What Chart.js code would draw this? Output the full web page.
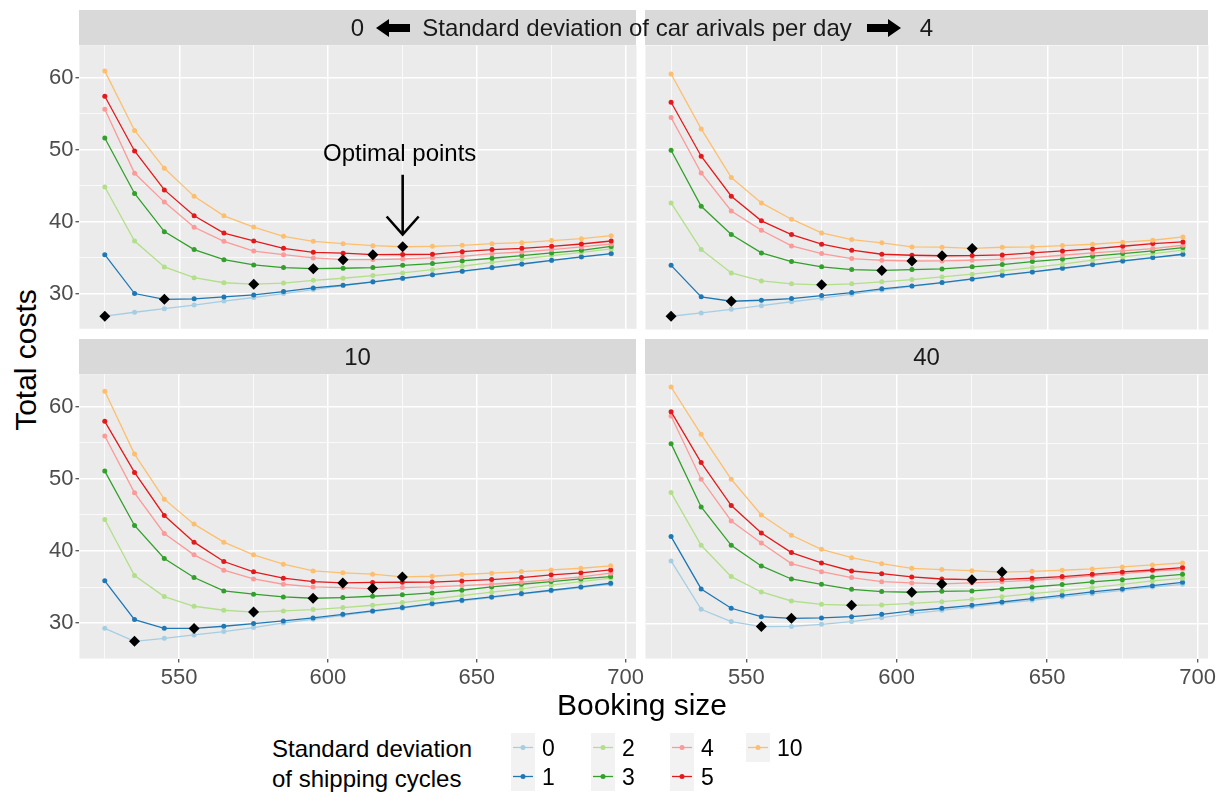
<!DOCTYPE html>
<html><head><meta charset="utf-8">
<script src="https://cdn.jsdelivr.net/npm/chart.js@4/dist/chart.umd.min.js"></script>
<style>
html,body{margin:0;padding:0;background:#fff;}
#root{position:relative;width:1223px;height:794px;overflow:hidden;font-family:'Liberation Sans',Arial,sans-serif;}
.wrap{position:absolute;left:0;top:0;}
.strip{position:absolute;background:#D9D9D9;z-index:2;}
.stxt{position:absolute;font-size:24px;color:#1A1A1A;transform:translate(-50%,-50%);white-space:nowrap;z-index:3;line-height:1;}
.ltxt{position:absolute;white-space:nowrap;color:#000;z-index:3;}
.axt{position:absolute;font-size:30px;color:#000;white-space:nowrap;z-index:3;line-height:1;}
.key{position:absolute;width:24px;height:29px;background:#F2F2F2;z-index:3;}
.klab{position:absolute;font-size:23px;color:#000;line-height:1;transform:translateY(-50%);z-index:3;}
</style></head>
<body><div id="root"></div>
<script>
// ---------------- data ----------------
const bookingSize = [525,535,545,555,565,575,585,595,605,615,625,635,645,655,665,675,685,695];
const cycleLevels = ['0','1','2','3','4','5','10'];
const arrivalLevels = ['0','4','10','40'];
const xGridTicks = [525,550,575,600,625,650,675,700];
const xLabelTicks = [550,600,650,700];
const yGridTicks = [30,35,40,45,50,55,60];
const yLabelTicks = [30,40,50,60];

// arrivals sd = 0
const arr0_cyc0  = [26.85,27.4,27.9,28.4,28.95,29.45,30.0,30.55,31.1,31.57,32.07,32.57,33.05,33.55,34.05,34.57,35.05,35.5];
const arr0_cyc1  = [35.4,30.0,29.2,29.26,29.53,29.81,30.27,30.78,31.15,31.62,32.12,32.62,33.1,33.6,34.1,34.62,35.1,35.55];
const arr0_cyc2  = [44.8,37.3,33.7,32.2,31.5,31.3,31.45,31.84,32.12,32.49,32.86,33.32,33.79,34.34,34.8,35.27,35.73,36.2];
const arr0_cyc3  = [51.6,43.9,38.6,36.1,34.7,33.97,33.6,33.45,33.51,33.6,33.92,34.16,34.53,34.9,35.27,35.64,36.0,36.55];
const arr0_cyc4  = [55.6,46.7,42.7,39.2,37.25,35.9,35.4,34.94,34.7,34.72,34.8,34.94,35.17,35.54,35.77,36.1,36.47,36.88];
const arr0_cyc5  = [57.4,49.8,44.4,40.8,38.4,37.3,36.28,35.73,35.6,35.4,35.42,35.45,35.82,36.1,36.28,36.56,36.88,37.3];
const arr0_cyc10 = [60.9,52.65,47.4,43.5,40.8,39.24,37.95,37.25,36.93,36.65,36.5,36.56,36.7,36.93,37.07,37.35,37.62,38.04];
// arrivals sd = 4
const arr4_cyc0  = [26.94,27.4,27.9,28.4,28.95,29.45,30.0,30.55,31.1,31.57,32.07,32.57,33.05,33.55,34.05,34.57,35.05,35.5];
const arr4_cyc1  = [34.0,29.63,29.02,29.16,29.39,29.81,30.23,30.74,31.15,31.61,32.12,32.63,33.09,33.6,34.11,34.62,35.08,35.54];
const arr4_cyc2  = [42.66,36.19,32.95,31.84,31.43,31.3,31.43,31.71,32.03,32.4,32.77,33.23,33.69,34.16,34.71,35.17,35.64,36.1];
const arr4_cyc3  = [49.97,42.2,38.27,35.73,34.53,33.79,33.42,33.3,33.42,33.51,33.79,34.11,34.53,34.85,35.27,35.64,36.0,36.47];
const arr4_cyc4  = [54.5,46.82,41.55,38.87,36.7,35.64,34.94,34.71,34.6,34.62,34.71,34.85,35.08,35.4,35.73,36.0,36.33,36.79];
const arr4_cyc5  = [56.62,49.14,43.59,40.17,38.27,36.93,36.1,35.54,35.4,35.33,35.36,35.45,35.73,36.0,36.28,36.65,37.02,37.25];
const arr4_cyc10 = [60.55,52.93,46.18,42.66,40.4,38.5,37.58,37.12,36.56,36.52,36.35,36.51,36.56,36.75,36.93,37.21,37.48,37.95];
// arrivals sd = 10
const arr10_cyc0  = [29.3,27.5,27.91,28.38,28.84,29.4,30.04,30.55,31.1,31.61,32.08,32.63,33.09,33.56,34.02,34.48,34.94,35.4];
const arr10_cyc1  = [35.87,30.5,29.3,29.28,29.58,29.95,30.32,30.74,31.24,31.71,32.17,32.72,33.19,33.65,34.11,34.57,35.03,35.54];
const arr10_cyc2  = [44.37,36.61,33.69,32.35,31.8,31.55,31.71,31.89,32.17,32.49,32.86,33.32,33.83,34.3,34.76,35.27,35.77,36.24];
const arr10_cyc3  = [51.08,43.54,38.96,36.33,34.48,34.02,33.65,33.46,33.56,33.74,33.93,34.2,34.57,35.03,35.4,35.77,36.14,36.47];
const arr10_cyc4  = [55.93,48.07,42.43,39.47,37.35,36.14,35.4,35.03,34.94,34.8,34.94,35.03,35.22,35.4,35.68,36.05,36.42,36.93];
const arr10_cyc5  = [57.97,50.89,44.93,41.23,38.55,37.12,36.24,35.77,35.59,35.66,35.68,35.7,35.86,36.05,36.33,36.7,36.98,37.39];
const arr10_cyc10 = [62.13,53.43,47.19,43.73,41.23,39.47,38.18,37.25,36.98,36.79,36.42,36.51,36.75,36.93,37.16,37.39,37.62,37.95];
// arrivals sd = 40
const arr40_cyc0  = [38.64,31.94,30.23,29.54,29.56,29.86,30.23,30.78,31.33,31.8,32.26,32.77,33.19,33.65,34.11,34.57,35.03,35.4];
const arr40_cyc1  = [42.02,34.76,32.08,30.92,30.69,30.74,30.92,31.24,31.71,32.08,32.49,32.95,33.42,33.88,34.34,34.76,35.22,35.68];
const arr40_cyc2  = [48.12,40.81,36.47,34.34,33.09,32.63,32.5,32.54,32.77,33.0,33.32,33.69,34.11,34.48,34.94,35.4,35.87,36.24];
const arr40_cyc3  = [54.91,46.13,40.81,37.95,36.14,35.4,34.71,34.39,34.3,34.43,34.48,34.76,35.03,35.36,35.73,36.05,36.42,36.79];
const arr40_cyc4  = [58.75,49.97,44.19,41.14,38.27,37.16,36.33,35.77,35.59,35.45,35.59,35.77,35.96,36.24,36.61,36.88,37.25,37.48];
const arr40_cyc5  = [59.35,52.28,46.32,42.52,39.8,38.36,37.25,36.88,36.42,36.14,36.05,36.1,36.24,36.47,36.79,37.12,37.39,37.72];
const arr40_cyc10 = [62.77,56.21,49.97,45.02,42.2,40.26,39.1,38.27,37.62,37.44,37.3,37.1,37.2,37.35,37.53,37.81,38.09,38.36];

const panelSeries = [
  [arr0_cyc0,arr0_cyc1,arr0_cyc2,arr0_cyc3,arr0_cyc4,arr0_cyc5,arr0_cyc10],
  [arr4_cyc0,arr4_cyc1,arr4_cyc2,arr4_cyc3,arr4_cyc4,arr4_cyc5,arr4_cyc10],
  [arr10_cyc0,arr10_cyc1,arr10_cyc2,arr10_cyc3,arr10_cyc4,arr10_cyc5,arr10_cyc10],
  [arr40_cyc0,arr40_cyc1,arr40_cyc2,arr40_cyc3,arr40_cyc4,arr40_cyc5,arr40_cyc10]
];
const annotationText = 'Optimal points';
const annotationX = 625;
const annotationTextY = 49.3;
const annotationArrowFrom = 46.5;
const annotationArrowTo = 38.2;

// ---------------- styles ----------------
const colors = ['#A6CEE3','#1F78B4','#B2DF8A','#33A02C','#FB9A99','#E31A1C','#FDBF6F'];
const FONT = "'Liberation Sans', Arial, sans-serif";
const X_RANGE = [516.5, 703.5];
const Y_RANGE = [25.1, 64.5];
const panels = [
  {x:79,  y:45,  w:557, h:284, showX:false, showY:true},
  {x:645, y:45,  w:563, h:284, showX:false, showY:false},
  {x:79,  y:374, w:557, h:284, showX:true,  showY:true},
  {x:645, y:374, w:563, h:284, showX:true,  showY:false}
];
const root = document.getElementById('root');

const bgPlugin = {
  id:'panelBg',
  beforeDraw(chart){
    const a = chart.chartArea, c = chart.ctx;
    c.save(); c.fillStyle = '#EBEBEB';
    c.fillRect(a.left, a.top, a.right-a.left, a.bottom-a.top);
    c.restore();
  }
};
const annotPlugin = {
  id:'annot',
  afterDatasetsDraw(chart, args, opts){
    if (!opts || !opts.enabled) return;
    const xs = chart.scales.x, ys = chart.scales.y, c = chart.ctx;
    const px = xs.getPixelForValue(annotationX);
    c.save();
    c.fillStyle = '#000'; c.font = '24px ' + FONT;
    c.textAlign = 'center'; c.textBaseline = 'middle';
    c.fillText(annotationText, px - 3, ys.getPixelForValue(annotationTextY));
    const y0 = ys.getPixelForValue(annotationArrowFrom), y1 = ys.getPixelForValue(annotationArrowTo);
    c.strokeStyle = '#000'; c.lineWidth = 2.6; c.lineCap = 'butt';
    c.beginPath(); c.moveTo(px, y0); c.lineTo(px, y1); c.stroke();
    c.beginPath(); c.moveTo(px-16, y1-18); c.lineTo(px, y1); c.lineTo(px+16, y1-18); c.stroke();
    c.restore();
  }
};

function argmin(arr){ let k=0; for(let i=1;i<arr.length;i++) if(arr[i]<arr[k]) k=i; return k; }

function makeChart(pi){
  const P = panels[pi];
  const wrap = document.createElement('div'); wrap.className='wrap';
  const cv = document.createElement('canvas');
  cv.width = P.w + 80; cv.height = P.h + 60;
  wrap.appendChild(cv); root.appendChild(wrap);
  const series = panelSeries[pi];
  const datasets = [];
  const opt = series.map(s => { const k = argmin(s); return {x: bookingSize[k], y: s[k]}; });
  datasets.push({label:'optimal', data: opt, showLine:false, pointStyle:'rectRot', pointRadius:5.5,
    pointBackgroundColor:'#000', pointBorderWidth:0, borderColor:'#000', order:0});
  series.forEach((s, i) => {
    datasets.push({label: cycleLevels[i], data: bookingSize.map((x,j)=>({x, y:s[j]})),
      borderColor: colors[i], backgroundColor: colors[i], pointBackgroundColor: colors[i],
      borderWidth:1.3, pointRadius:2.5, pointBorderWidth:0, tension:0, order: 10 - i});
  });
  const tickFont = {family: FONT, size: 22};
  const chart = new Chart(cv, {
    type:'line',
    data:{datasets},
    plugins:[bgPlugin, annotPlugin],
    options:{
      responsive:false, maintainAspectRatio:false, animation:false, devicePixelRatio:1,
      layout:{padding:0},
      plugins:{legend:{display:false}, tooltip:{enabled:false}, annot:{enabled: pi===0}},
      scales:{
        x:{type:'linear', min:X_RANGE[0], max:X_RANGE[1],
          afterBuildTicks(s){ s.ticks = xGridTicks.map(v=>({value:v})); },
          afterFit(s){ if(!P.showX) s.height = 0; },
          ticks:{display:P.showX, autoSkip:false, maxRotation:0, padding:2, color:'#4D4D4D', font:tickFont,
            callback:(v)=> xLabelTicks.includes(v) ? String(v) : ''},
          grid:{color:'#FFFFFF', lineWidth:(ctx)=> (ctx.tick && xLabelTicks.includes(ctx.tick.value)) ? 1.5 : 0.75,
            drawTicks:P.showX, tickLength:4, tickWidth:1.1,
            tickColor:(ctx)=> (ctx.tick && xLabelTicks.includes(ctx.tick.value)) ? '#333333' : 'rgba(0,0,0,0)'},
          border:{display:false}},
        y:{type:'linear', min:Y_RANGE[0], max:Y_RANGE[1],
          afterBuildTicks(s){ s.ticks = yGridTicks.map(v=>({value:v})); },
          afterFit(s){ if(!P.showY) s.width = 0; },
          ticks:{display:P.showY, autoSkip:false, padding:2, color:'#4D4D4D', font:tickFont,
            callback:(v)=> yLabelTicks.includes(v) ? String(v) : ''},
          grid:{color:'#FFFFFF', lineWidth:(ctx)=> (ctx.tick && yLabelTicks.includes(ctx.tick.value)) ? 1.5 : 0.75,
            drawTicks:P.showY, tickLength:4, tickWidth:1.1,
            tickColor:(ctx)=> (ctx.tick && yLabelTicks.includes(ctx.tick.value)) ? '#333333' : 'rgba(0,0,0,0)'},
          border:{display:false}}
      }
    }
  });
  for (let k=0;k<3;k++){
    const a = chart.chartArea;
    const W = Math.round(chart.width + P.w - (a.right-a.left));
    const H = Math.round(chart.height + P.h - (a.bottom-a.top));
    chart.resize(W, H);
  }
  const a = chart.chartArea;
  wrap.style.left = Math.round(P.x - a.left) + 'px';
  wrap.style.top = Math.round(P.y - a.top) + 'px';
  return chart;
}
[0,1,2,3].forEach(makeChart);

// ---------------- strips ----------------
function el(cls, css, html){ const d=document.createElement('div'); d.className=cls; Object.assign(d.style, css); if(html!==undefined) d.innerHTML=html; root.appendChild(d); return d; }
const stripTops = [10,10,339,339];
panels.forEach((P,i)=>{
  el('strip', {left:P.x+'px', top:stripTops[i]+'px', width:P.w+'px', height:'35px'});
  el('stxt', {left:(P.x+P.w/2)+'px', top:(stripTops[i]+18)+'px'}, arrivalLevels[i]);
});
// overlaid header text across the top strips
el('ltxt', {left:'376px', top:'19px', zIndex:4},
  '<svg width="34" height="18" viewBox="0 0 34 18"><polygon points="0,9 13,0 13,5 34,5 34,13 13,13 13,18" fill="#000"/></svg>');
el('stxt', {left:'637px', top:'28px', zIndex:4}, 'Standard deviation of car arivals per day');
el('ltxt', {left:'867px', top:'19px', zIndex:4},
  '<svg width="34" height="18" viewBox="0 0 34 18"><polygon points="34,9 21,0 21,5 0,5 0,13 21,13 21,18" fill="#000"/></svg>');

// ---------------- axis titles ----------------
el('axt', {left:'642px', top:'705px', transform:'translate(-50%,-50%)'}, 'Booking size');
el('axt', {left:'26px', top:'360px', transform:'translate(-50%,-50%) rotate(-90deg)'}, 'Total costs');

// ---------------- legend ----------------
el('ltxt', {left:'272px', top:'734px', fontSize:'24px', lineHeight:'30px'}, 'Standard deviation<br>of shipping cycles');
const keyCols = [511, 591, 670, 746];
const keyRows = [733, 762];
cycleLevels.forEach((lab, i) => {
  const col = Math.floor(i/2), row = i%2;
  const k = el('key', {left:keyCols[col]+'px', top:keyRows[row]+'px'});
  k.innerHTML = '<svg width="24" height="29"><line x1="2" y1="14.5" x2="22" y2="14.5" stroke="'+colors[i]+'" stroke-width="1.3"/><circle cx="12" cy="14.5" r="2.5" fill="'+colors[i]+'"/></svg>';
  el('klab', {left:(keyCols[col]+31)+'px', top:(keyRows[row]+15)+'px'}, lab);
});
</script>
</body></html>
